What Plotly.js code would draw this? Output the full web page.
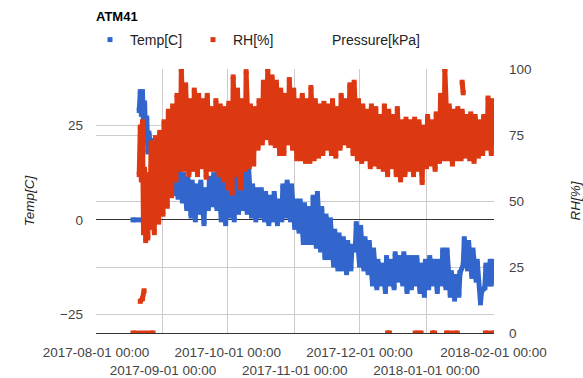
<!DOCTYPE html>
<html><head><meta charset="utf-8">
<script src="https://cdn.plot.ly/plotly-3.0.1.min.js"></script>
<style>html,body{margin:0;padding:0;background:#fff}#chart{width:583px;height:378px}</style>
</head><body><div id="chart"></div>
<script>
// ---- data ----
const tickDates = ['2017-08-01','2017-09-01','2017-10-01','2017-11-01','2017-12-01','2018-01-01','2018-02-01'];
const tickLabels = ['2017-08-01 00:00','2017-09-01 00:00','2017-10-01 00:00','2017-11-01 00:00','2017-12-01 00:00','2018-01-01 00:00','2018-02-01 00:00'];

// Temperature: sensor dropouts reading 0
const tempGlitchTimes = ['2017-08-18 03:00','2017-08-22 18:00'];
const tempGlitchValues = [0, 0];
// Temperature: daily low / high envelope
const tempDates = ['2017-08-21','2017-08-22','2017-08-23','2017-08-24','2017-08-25','2017-08-27','2017-08-29','2017-08-31','2017-09-02','2017-09-04','2017-09-06','2017-09-08','2017-09-10','2017-09-12','2017-09-14','2017-09-16','2017-09-18','2017-09-20','2017-09-22','2017-09-24','2017-09-26','2017-09-28','2017-09-30','2017-10-02','2017-10-04','2017-10-06','2017-10-08','2017-10-10','2017-10-12','2017-10-14','2017-10-16','2017-10-18','2017-10-20','2017-10-22','2017-10-24','2017-10-26','2017-10-28','2017-10-30','2017-11-01','2017-11-03','2017-11-05','2017-11-07','2017-11-09','2017-11-11','2017-11-13','2017-11-15','2017-11-17','2017-11-19','2017-11-21','2017-11-23','2017-11-25','2017-11-27','2017-11-29','2017-12-01','2017-12-03','2017-12-05','2017-12-07','2017-12-09','2017-12-11','2017-12-13','2017-12-15','2017-12-17','2017-12-19','2017-12-21','2017-12-23','2017-12-25','2017-12-27','2017-12-29','2017-12-31','2018-01-02','2018-01-04','2018-01-06','2018-01-08','2018-01-10','2018-01-12','2018-01-14','2018-01-16','2018-01-18','2018-01-20','2018-01-22','2018-01-24','2018-01-26','2018-01-28','2018-01-30','2018-01-31'];
const tempLow  = [29,28,25,22,18,16,15,13,11,9,7,6,5,3,1,0,2,-1,3,4,3,0,-1,1,0,2,3,2,1,0,1,0,-1,0,-1,0,1,0,-2,-3,-6,-6,-6,-7,-8,-10,-10,-12,-13,-13,-14,-13,-8,-12,-13,-14,-17,-18,-17,-19,-17,-18,-16,-17,-19,-18,-17,-19,-20,-18,-17,-19,-17,-18,-20,-21,-20,-12,-13,-15,-16,-22,-18,-17,-17];
const tempHigh = [34,34,31,27,23,21,20,19,17,15,14,13,12,11,10,9,10,8,11,12,13,10,9,10,11,15,14,15,9,8,8,7,6,7,5,9,10,9,5,5,4,3,6,7,3,1,0,-3,-4,-5,-6,-7,-1,-2,-5,-6,-8,-11,-12,-10,-11,-9,-10,-9,-10,-10,-10,-12,-11,-10,-11,-11,-8,-8,-14,-15,-14,-5,-6,-8,-11,-19,-12,-11,-11];

// Relative humidity: dropouts / isolated readings
const rhGlitchTimes = ['2017-08-18 03:00','2017-08-27 10:00',null,'2017-08-21 12:00','2017-08-22 12:00','2017-08-23 06:00',null,'2017-12-14 00:00','2017-12-14 20:00',null,'2017-12-26 18:00','2017-12-29 12:00',null,'2018-01-03 18:00','2018-01-04 18:00',null,'2018-01-10 06:00','2018-01-15 06:00',null,'2018-01-17 12:00','2018-01-18 00:00',null,'2018-01-28 06:00','2018-02-01 06:00'];
const rhGlitchValues = [0,0,null,12,13,16,null,0,0,null,0,0,null,0,0,null,0,0,null,95,91,null,0,0];
// Relative humidity: daily low / high envelope
const rhDates = ['2017-08-21','2017-08-22','2017-08-23','2017-08-24','2017-08-25','2017-08-26','2017-08-28','2017-08-30','2017-09-01','2017-09-03','2017-09-05','2017-09-07','2017-09-09','2017-09-11','2017-09-13','2017-09-15','2017-09-17','2017-09-19','2017-09-21','2017-09-23','2017-09-25','2017-09-27','2017-09-29','2017-10-01','2017-10-03','2017-10-05','2017-10-07','2017-10-09','2017-10-11','2017-10-13','2017-10-15','2017-10-17','2017-10-19','2017-10-21','2017-10-23','2017-10-25','2017-10-27','2017-10-29','2017-10-31','2017-11-02','2017-11-04','2017-11-06','2017-11-08','2017-11-10','2017-11-12','2017-11-14','2017-11-16','2017-11-18','2017-11-20','2017-11-22','2017-11-24','2017-11-26','2017-11-28','2017-11-30','2017-12-02','2017-12-04','2017-12-06','2017-12-08','2017-12-10','2017-12-12','2017-12-14','2017-12-16','2017-12-18','2017-12-20','2017-12-22','2017-12-24','2017-12-26','2017-12-28','2017-12-30','2018-01-01','2018-01-03','2018-01-05','2018-01-07','2018-01-09','2018-01-11','2018-01-13','2018-01-15','2018-01-17','2018-01-19','2018-01-21','2018-01-23','2018-01-25','2018-01-27','2018-01-29','2018-01-31'];
const rhLow  = [60,58,38,35,36,40,38,42,45,48,52,58,62,62,60,62,60,63,59,62,62,60,58,55,53,60,55,62,63,64,70,72,74,72,71,68,68,72,70,66,66,65,65,66,67,68,70,68,67,70,72,71,68,66,65,66,63,64,63,62,60,63,60,58,60,62,60,62,57,63,64,62,65,66,66,64,66,66,67,66,65,67,68,70,68];
const rhHigh = [78,80,62,50,60,72,74,76,80,84,86,90,100,94,88,92,90,88,90,85,88,86,85,87,97,92,88,99,86,85,88,95,100,97,95,92,90,96,92,88,90,88,93,88,86,87,86,88,85,90,88,94,95,88,86,84,86,85,82,86,84,82,85,80,81,80,81,80,78,82,80,83,90,100,86,84,85,84,82,83,82,80,82,89,88];

const seriesNames = ['Temp[C]','RH[%]','Pressure[kPa]'];
const seriesColors = ['#3366cc','#dc3912','#ff9900'];

// ---- build traces ----
function zigzag(dates, low, high) {
  const x = [], y = [];
  dates.forEach((d, i) => { x.push(d + ' 00:00', d + ' 12:00'); y.push(low[i], high[i]); });
  return {x, y};
}
const tz = zigzag(tempDates, tempLow, tempHigh);
const rz = zigzag(rhDates, rhLow, rhHigh);

const lineStyle = c => ({color: c, width: 5});
const markStyle = c => ({color: c, size: 5, symbol: 'square'});

const traces = [
  {type: 'scatter', mode: 'lines+markers', showlegend: false, hoverinfo: 'skip',
   x: tempGlitchTimes.concat([null], tz.x), y: tempGlitchValues.concat([null], tz.y),
   line: lineStyle(seriesColors[0]), marker: markStyle(seriesColors[0]), connectgaps: false, yaxis: 'y'},
  {type: 'scatter', mode: 'lines+markers', showlegend: false, hoverinfo: 'skip',
   x: rhGlitchTimes.concat([null], rz.x), y: rhGlitchValues.concat([null], rz.y),
   line: lineStyle(seriesColors[1]), marker: markStyle(seriesColors[1]), connectgaps: false, yaxis: 'y2'},
  // legend entries (one legend box each, placed like the original)
  {type: 'scatter', mode: 'markers', x: [null], y: [null], name: seriesNames[0], legend: 'legend',
   marker: {color: seriesColors[0], size: 5, symbol: 'square'}},
  {type: 'scatter', mode: 'markers', x: [null], y: [null], name: seriesNames[1], legend: 'legend2',
   marker: {color: seriesColors[1], size: 5, symbol: 'square'}, yaxis: 'y2'},
  {type: 'scatter', mode: 'markers', x: [null], y: [null], name: seriesNames[2], legend: 'legend3',
   marker: {color: 'rgba(0,0,0,0)', size: 5, symbol: 'square'}, yaxis: 'y2'}
];

const FONT = 'Arial, "Liberation Sans", sans-serif';
const legendBase = x => ({orientation: 'h', xref: 'container', x: x, xanchor: 'left',
  yref: 'container', y: 1 - 40/378, yanchor: 'middle',
  font: {family: FONT, size: 14, color: '#222'}, bgcolor: 'rgba(0,0,0,0)'});

const layout = {
  width: 583, height: 378,
  margin: {l: 96, r: 89, t: 69, b: 45, pad: 0},
  paper_bgcolor: '#ffffff', plot_bgcolor: '#ffffff',
  font: {family: FONT, size: 13.5, color: '#444'},
  title: {text: '<b>ATM41</b>', xref: 'container', x: 96/583, xanchor: 'left',
          yref: 'container', y: 1 - 16/378, yanchor: 'middle', font: {family: FONT, size: 13, color: '#000'}},
  showlegend: true,
  legend: legendBase(90/583),
  legend2: legendBase(193/583),
  legend3: legendBase(292/583),
  xaxis: {type: 'date', range: ['2017-08-01 00:00', '2018-02-01 06:00'],
          tickmode: 'array', tickvals: tickDates,
          ticktext: tickLabels.map((t, i) => i % 2 ? '<br>' + t : t),
          tickangle: 0, ticks: '', ticklabelstandoff: 7, showgrid: true, gridcolor: '#cccccc', gridwidth: 1,
          showline: true, linecolor: '#333333', linewidth: 1, zeroline: false,
          tickfont: {family: FONT, size: 13.5, color: '#444'}, fixedrange: true},
  yaxis: {range: [-30, 40], tickmode: 'array', tickvals: [-25, 0, 25], ticks: '',
          showgrid: true, gridcolor: '#cccccc', zeroline: true, zerolinecolor: '#333333', zerolinewidth: 1,
          ticklabelstandoff: 12, tickfont: {family: FONT, size: 13.5, color: '#444'},
          title: {text: 'Temp[C]', standoff: 22, font: {family: FONT, size: 13.5, color: '#222', style: 'italic'}},
          fixedrange: true},
  yaxis2: {range: [0, 100], overlaying: 'y', side: 'right', tickmode: 'array', tickvals: [0, 25, 50, 75, 100], ticks: '',
           showgrid: true, gridcolor: '#cccccc', zeroline: false,
           ticklabelstandoff: 14, tickfont: {family: FONT, size: 13.5, color: '#444'},
           title: {text: 'RH[%]', standoff: 50, font: {family: FONT, size: 13.5, color: '#222', style: 'italic'}},
           fixedrange: true}
};

Plotly.newPlot('chart', traces, layout, {displayModeBar: false, staticPlot: true});
</script>
</body></html>
